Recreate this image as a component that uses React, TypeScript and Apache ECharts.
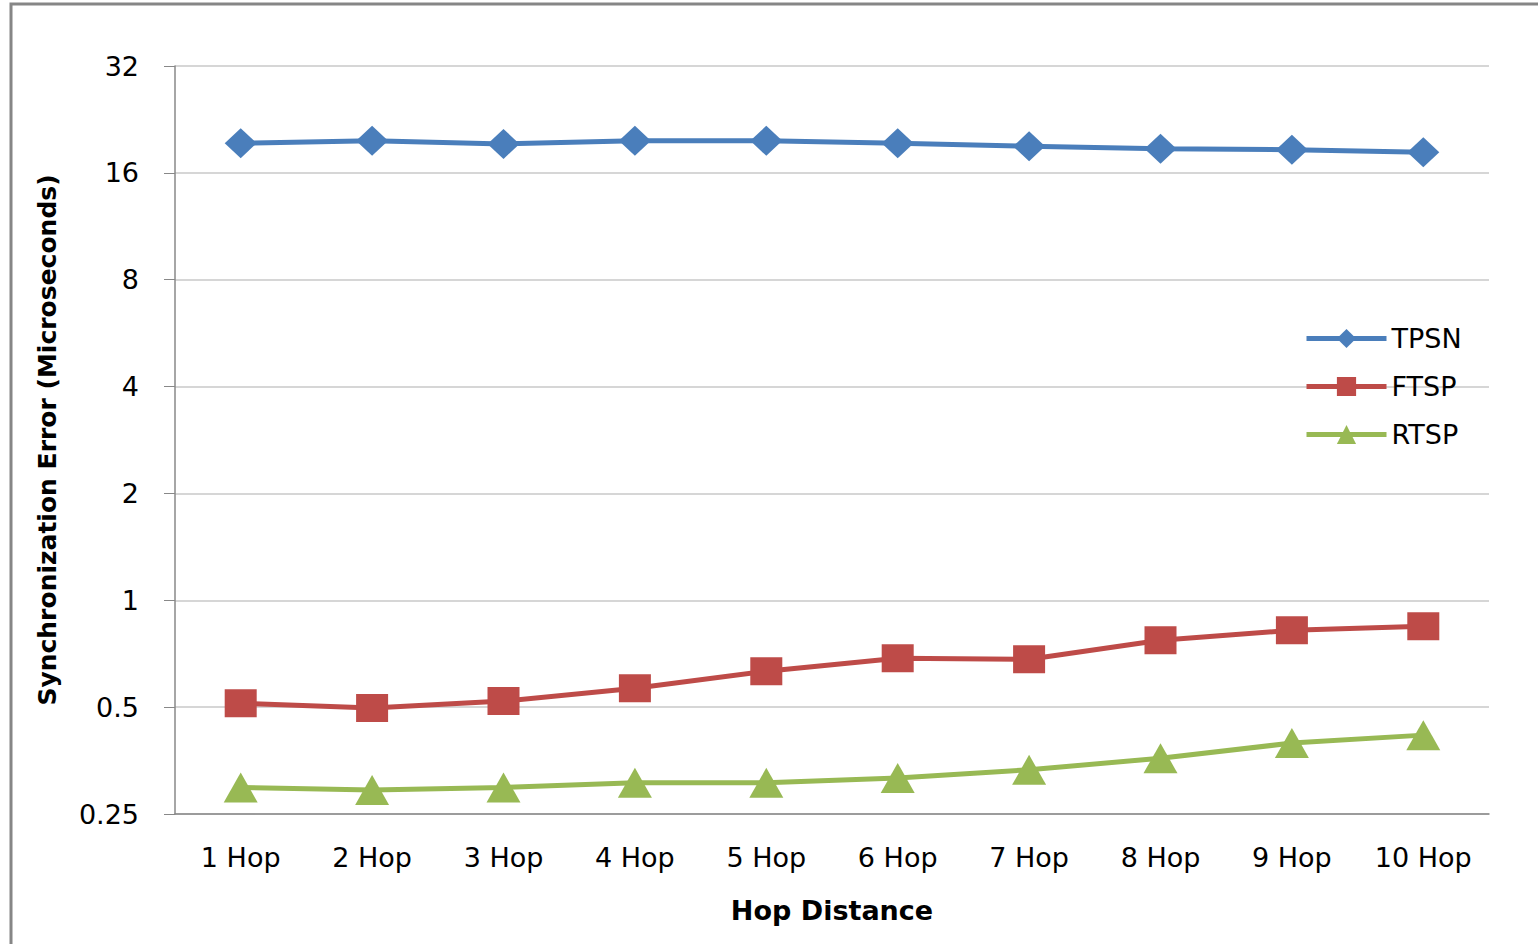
import React, { useEffect, useRef } from "react";
import * as echarts from "echarts";

const categories = ["1 Hop", "2 Hop", "3 Hop", "4 Hop", "5 Hop", "6 Hop", "7 Hop", "8 Hop", "9 Hop", "10 Hop"];
const tpsn = [19.4, 19.7, 19.3, 19.7, 19.7, 19.4, 19.0, 18.7, 18.6, 18.3];
const ftsp = [0.513, 0.497, 0.52, 0.565, 0.631, 0.687, 0.682, 0.772, 0.823, 0.845];
const rtsp = [0.297, 0.292, 0.297, 0.306, 0.306, 0.316, 0.333, 0.359, 0.396, 0.417];

const FONT = "DejaVu Sans";

export default function App() {
  const ref = useRef<HTMLDivElement>(null);
  useEffect(() => {
    const chart = echarts.init(ref.current!, null, { renderer: "svg" });
    const mk = (name: string, data: number[], color: string, symbol: string, size: number[]) => ({
      name,
      type: "line",
      data,
      symbol,
      symbolSize: size,
      lineStyle: { color, width: 5 },
      itemStyle: { color },
      z: 3,
    });
    chart.setOption({
      animation: false,
      backgroundColor: "#ffffff",
      textStyle: { fontFamily: FONT },
      graphic: [
        {
          type: "rect",
          shape: { x: 11, y: 4, width: 1600, height: 1000 },
          style: { fill: "none", stroke: "#868686", lineWidth: 3 },
          silent: true,
        },
      ],
      grid: { left: 175, right: 49, top: 66, bottom: 130, containLabel: false },
      legend: {
        orient: "vertical",
        left: 1299,
        top: 320,
        itemWidth: 80,
        itemHeight: 24,
        itemGap: 21,
        lineStyle: { width: 5 },
        textStyle: { fontSize: 27, color: "#000", fontFamily: FONT },
        data: ["TPSN", "FTSP", "RTSP"],
      },
      xAxis: {
        type: "category",
        data: categories,
        boundaryGap: true,
        axisLine: { lineStyle: { color: "#888", width: 1.5 } },
        axisTick: { show: false },
        axisLabel: { fontSize: 27, color: "#000", margin: 30, fontFamily: FONT },
        name: "Hop Distance",
        nameLocation: "middle",
        nameGap: 83,
        nameTextStyle: { fontSize: 27, fontWeight: "bold", color: "#000", fontFamily: FONT },
      },
      yAxis: {
        type: "log",
        logBase: 2,
        min: 0.25,
        max: 32,
        axisLine: { show: true, lineStyle: { color: "#888", width: 1.5 } },
        axisTick: { show: true, length: 11, lineStyle: { color: "#888" } },
        splitLine: { show: true, lineStyle: { color: "#c8c8c8", width: 1.5 } },
        axisLabel: { fontSize: 27, color: "#000", margin: 36, fontFamily: FONT },
        name: "Synchronization Error (Microseconds)",
        nameLocation: "middle",
        nameGap: 115,
        nameRotate: 90,
        nameTextStyle: { fontSize: 25, fontWeight: "bold", color: "#000", fontFamily: FONT },
      },
      series: [
        mk("TPSN", tpsn, "#4A7EBB", "diamond", [32, 30]),
        mk("FTSP", ftsp, "#BE4B48", "rect", [32, 28]),
        mk("RTSP", rtsp, "#98B954", "triangle", [34, 30]),
      ],
    });
    return () => chart.dispose();
  }, []);
  return (
    <div
      ref={ref}
      style={{ position: "fixed", left: 0, top: 0, width: 1538, height: 944, background: "#fff" }}
    />
  );
}
